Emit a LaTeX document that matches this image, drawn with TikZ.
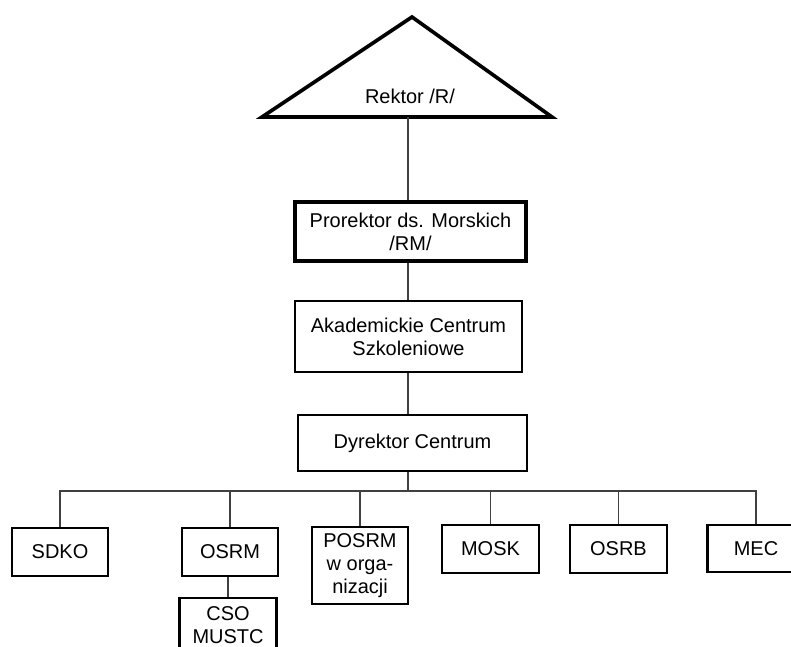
\documentclass[tikz,border=0pt]{standalone}
\usepackage{fontspec}
\setmainfont{Liberation Sans}
\usetikzlibrary{positioning}
\tikzset{
    unit/.style={rectangle, draw=black, line width=1.5pt, align=center, inner sep=0pt,
                 font=\fontsize{14.2}{16.4}\selectfont},
    topunit/.style={unit, line width=2.3pt},
    boxsize/.style 2 args={minimum width=#1*0.025cm, minimum height=#2*0.025cm},
    link/.style={line width=0.9pt, draw=black!75},
}
\begin{document}
\begin{tikzpicture}[x=0.025cm, y=-0.025cm]
  \useasboundingbox (0,0) rectangle (791,646);

  % Rektor
  \draw[line width=2.6pt, line join=miter] (262,117) -- (412,17) -- (552,117) -- cycle;
  \node[font=\fontsize{14.2}{16.4}\selectfont] (rektor) at (410,96) {Rektor /R/};
  \coordinate (rbase) at (408,117);

  % main line
  \node[topunit, boxsize={231}{59}] (prorektor) at (410.5,231.5) {Prorektor ds. Morskich\\/RM/};
  \node[unit, boxsize={227}{71}] (akad) at (408.5,336.5) {Akademickie Centrum\\Szkoleniowe};
  \node[unit, boxsize={229}{56}] (dyr) at (412.5,443) {Dyrektor Centrum};
  \coordinate (bus) at (408,491);

  % units
  \node[unit, boxsize={96}{48}] (sdko)  at (60,552)    {SDKO};
  \node[unit, boxsize={96}{48}] (osrm)  at (230,552)   {OSRM};
  \node[unit, boxsize={97}{54}] (cso)   at (228,625)   {CSO\\MUSTC};
  \node[unit, boxsize={96}{77}] (posrm) at (360,565.5) {POSRM\\w orga-\\nizacji};
  \node[unit, boxsize={97}{48}] (mosk)  at (490.5,549) {MOSK};
  \node[unit, boxsize={97}{48}] (osrb)  at (618.5,549) {OSRB};
  \node[unit, boxsize={97}{47}] (mec)   at (756,548.5) {MEC};

  \draw[link] (rbase) -- (rbase |- prorektor.north);
  \draw[link] (prorektor.south -| rbase) -- (rbase |- akad.north);
  \draw[link] (akad.south -| rbase) -- (rbase |- dyr.north);
  \draw[link] (dyr.south -| rbase) -- (bus);
  \draw[link] (sdko.north) |- (mec.north |- bus) -- (mec.north);
  \foreach \n in {osrm,posrm,mosk,osrb}
    \draw[link] (\n.north) -- (\n.north |- bus);
  \draw[link] (osrm.south -| cso) -- (cso.north);
\end{tikzpicture}
\end{document}
